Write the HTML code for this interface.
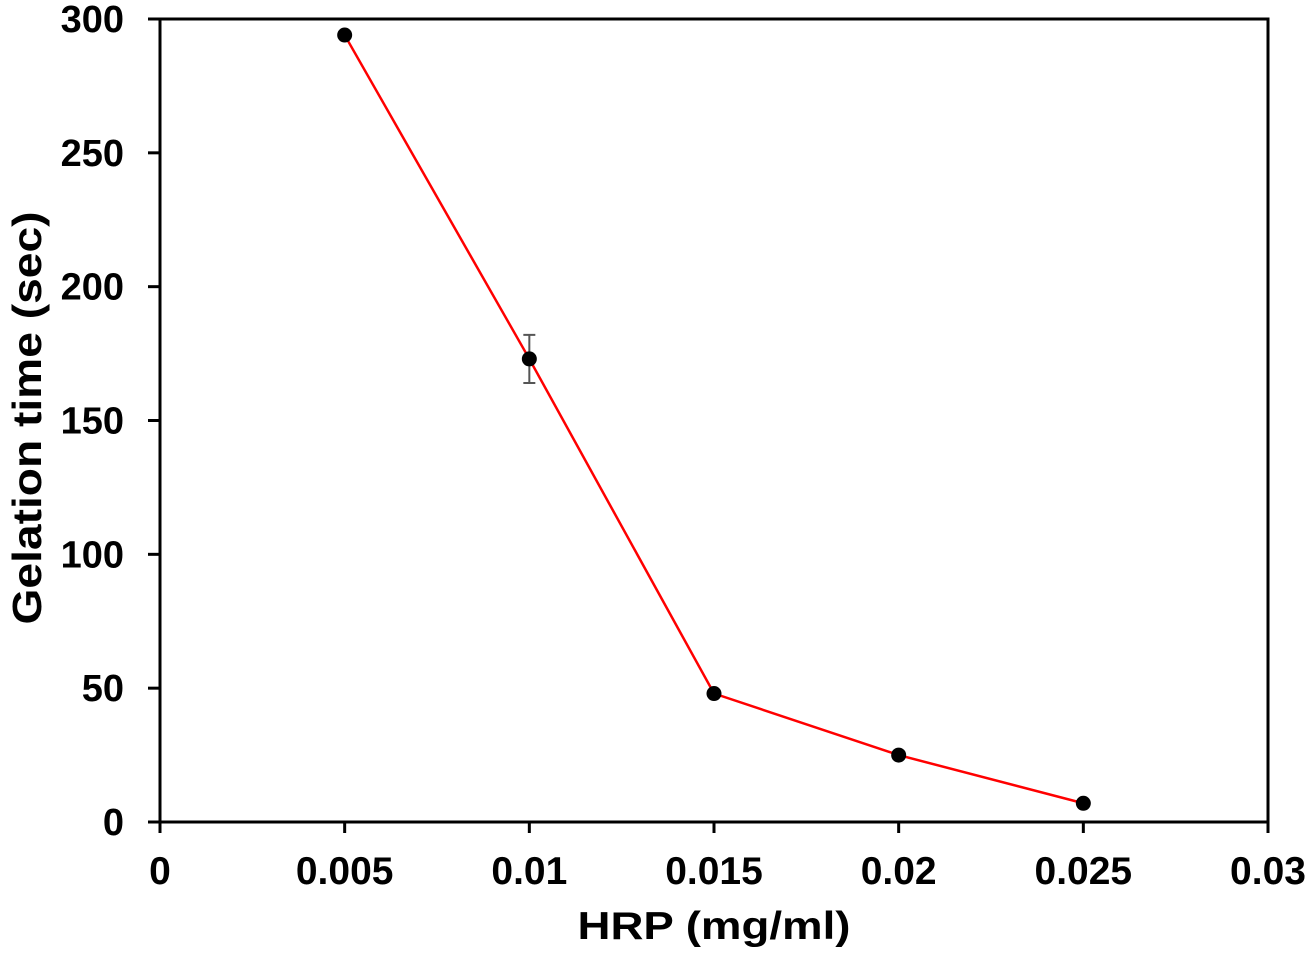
<!DOCTYPE html>
<html><head><meta charset="utf-8"><style>
html,body{margin:0;padding:0;background:#fff;}
svg{display:block;font-family:"Liberation Sans",Arial,sans-serif;font-weight:bold;}
</style></head><body>
<svg id="chart" width="1307" height="956">
<g id="axes"></g><g id="marks"></g>
</svg>
<script>
const xValues=[0.005,0.01,0.015,0.02,0.025];
const yValues=[294,173,48,25,7];
const yErrors=[0,9,0,0,0];
const xTicks=[0,0.005,0.01,0.015,0.02,0.025,0.03];
const xTickLabels=["0","0.005","0.01","0.015","0.02","0.025","0.03"];
const yTicks=[0,50,100,150,200,250,300];
const NS="http://www.w3.org/2000/svg";
const L=160,R=1268,T=19,B=822;
const xs=v=>L+(v-0)/(0.03)*(R-L);
const ys=v=>B-(v/300)*(B-T);
function mk(tag,attrs,parent,text){const e=document.createElementNS(NS,tag);for(const k in attrs)e.setAttribute(k,attrs[k]);if(text!==undefined)e.textContent=text;parent.appendChild(e);return e;}
const ax=document.getElementById('axes'),mg=document.getElementById('marks');
let e=mk('rect',{x:L,y:T,width:R-L,height:B-T,fill:'none',stroke:'#000','stroke-width':3},ax);


yTicks.forEach(v=>{
 let t=mk('line',{x1:148,x2:L,y1:ys(v),y2:ys(v),stroke:'#000','stroke-width':3},ax);
 
 
 let l=mk('text',{x:124,y:ys(v)+13,'text-anchor':'end','font-size':38},ax,String(v));
 
 
});
xTicks.forEach((v,i)=>{
 let t=mk('line',{x1:xs(v),x2:xs(v),y1:B,y2:B+11,stroke:'#000','stroke-width':3},ax);
 
 
 let l=mk('text',{x:xs(v),y:884,'text-anchor':'middle','font-size':39},ax,xTickLabels[i]);
 
 
});
let xt=mk('text',{x:714,y:939,'text-anchor':'middle','font-size':39,textLength:273,lengthAdjust:'spacingAndGlyphs'},ax,'HRP (mg/ml)');


let yt=mk('text',{x:0,y:0,'text-anchor':'middle','font-size':41,textLength:413,lengthAdjust:'spacingAndGlyphs',transform:'translate(41,418) rotate(-90)'},ax,'Gelation time (sec)');


let pl=mk('polyline',{points:xValues.map((x,i)=>xs(x)+','+ys(yValues[i])).join(' '),fill:'none',stroke:'#ff0000','stroke-width':2.5},mg);


xValues.forEach((x,i)=>{
 if(yErrors[i]>0){
  const cx=xs(x),a=ys(yValues[i]+yErrors[i]),b=ys(yValues[i]-yErrors[i]);
  let g=mk('path',{d:`M${cx},${a}V${b}M${cx-6},${a}H${cx+6}M${cx-6},${b}H${cx+6}`,stroke:'#555','stroke-width':2,fill:'none'},mg);
  
  
 }
 let c=mk('circle',{cx:xs(x),cy:ys(yValues[i]),r:7.5,fill:'#000'},mg);
 
 
});
</script>
</body></html>
